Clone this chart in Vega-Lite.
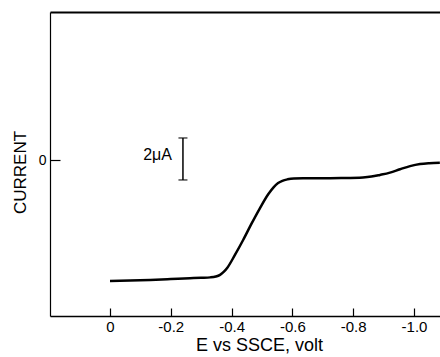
{
  "$schema": "https://vega.github.io/schema/vega-lite/v6.json",
  "width": 390,
  "height": 304,
  "autosize": "none",
  "padding": {"left": 50, "top": 12, "right": 0, "bottom": 41},
  "background": "white",
  "config": {
    "view": {"stroke": null},
    "font": "Liberation Sans",
    "axis": {"domainColor": "black", "tickColor": "black", "labelColor": "black", "titleColor": "black", "grid": false}
  },
  "datasets": {
    "curve": [
      {"E": 0.0, "I": -5.76},
      {"E": -0.066, "I": -5.74},
      {"E": -0.132, "I": -5.71},
      {"E": -0.2, "I": -5.67},
      {"E": -0.263, "I": -5.63},
      {"E": -0.3, "I": -5.61},
      {"E": -0.33, "I": -5.59},
      {"E": -0.348, "I": -5.55},
      {"E": -0.362, "I": -5.47},
      {"E": -0.374, "I": -5.33},
      {"E": -0.386, "I": -5.13},
      {"E": -0.411, "I": -4.52},
      {"E": -0.438, "I": -3.81},
      {"E": -0.466, "I": -3.02},
      {"E": -0.493, "I": -2.3},
      {"E": -0.521, "I": -1.62},
      {"E": -0.538, "I": -1.3},
      {"E": -0.553, "I": -1.1},
      {"E": -0.567, "I": -0.99},
      {"E": -0.584, "I": -0.92},
      {"E": -0.605, "I": -0.88},
      {"E": -0.635, "I": -0.87},
      {"E": -0.691, "I": -0.87},
      {"E": -0.76, "I": -0.86},
      {"E": -0.832, "I": -0.83},
      {"E": -0.86, "I": -0.79},
      {"E": -0.888, "I": -0.71},
      {"E": -0.921, "I": -0.6},
      {"E": -0.954, "I": -0.44},
      {"E": -0.987, "I": -0.29},
      {"E": -1.02, "I": -0.19},
      {"E": -1.05, "I": -0.15},
      {"E": -1.085, "I": -0.13}
    ],
    "bar": [{"E": -0.24, "lo": -0.95, "hi": 1.05}],
    "barends": [{"E": -0.24, "I": -0.95}, {"E": -0.24, "I": 1.05}],
    "label": [{"E": -0.204, "I": 0.24, "text": "2μA"}]
  },
  "resolve": {"axis": {"x": "independent"}},
  "layer": [
    {
      "data": {"name": "curve"},
      "mark": {"type": "line", "color": "black", "strokeWidth": 2.5, "interpolate": "monotone"},
      "encoding": {
        "x": {
          "field": "E", "type": "quantitative",
          "scale": {"domain": [-1.0855, 0.1973], "reverse": true, "nice": false, "zero": false},
          "axis": {
            "orient": "bottom",
            "values": [0, -0.2, -0.4, -0.6, -0.8, -1.0],
            "labelExpr": "datum.value == 0 ? '0' : '-' + format(-datum.value, '.1f')",
            "tickSize": -8, "tickWidth": 1.2, "domainWidth": 1.5,
            "labelFontSize": 15, "labelPadding": 11, "labelBaseline": "top",
            "title": "E vs SSCE, volt", "titleFontSize": 18, "titleFontWeight": "normal",
            "titleX": 209, "titleY": 20, "titleBaseline": "top", "titleAnchor": null
          }
        },
        "y": {
          "field": "I", "type": "quantitative",
          "scale": {"domain": [-7.43, 7.05], "nice": false, "zero": false},
          "axis": {
            "values": [0],
            "tickSize": -10, "tickWidth": 1.2, "domainWidth": 1.2,
            "labelFontSize": 14, "labelPadding": 14,
            "title": "CURRENT", "titleFontSize": 17, "titleFontWeight": "normal",
            "titleX": -30, "titleY": 160, "titleBaseline": "middle", "titleAnchor": null
          }
        }
      }
    },
    {
      "data": {"name": "bar"},
      "mark": {"type": "rule", "color": "black", "strokeWidth": 1.5},
      "encoding": {
        "x": {"field": "E", "type": "quantitative", "axis": {"orient": "top", "domain": true, "domainWidth": 2, "ticks": false, "labels": false, "title": null}},
        "y": {"field": "lo", "type": "quantitative"},
        "y2": {"field": "hi"}
      }
    },
    {
      "data": {"name": "barends"},
      "mark": {"type": "tick", "orient": "horizontal", "color": "black", "size": 9, "thickness": 1.5},
      "encoding": {
        "x": {"field": "E", "type": "quantitative", "axis": null},
        "y": {"field": "I", "type": "quantitative"}
      }
    },
    {
      "data": {"name": "label"},
      "mark": {"type": "text", "align": "right", "baseline": "middle", "fontSize": 16, "color": "black", "font": "Liberation Sans"},
      "encoding": {
        "x": {"field": "E", "type": "quantitative", "axis": null},
        "y": {"field": "I", "type": "quantitative"},
        "text": {"field": "text"}
      }
    }
  ]
}
